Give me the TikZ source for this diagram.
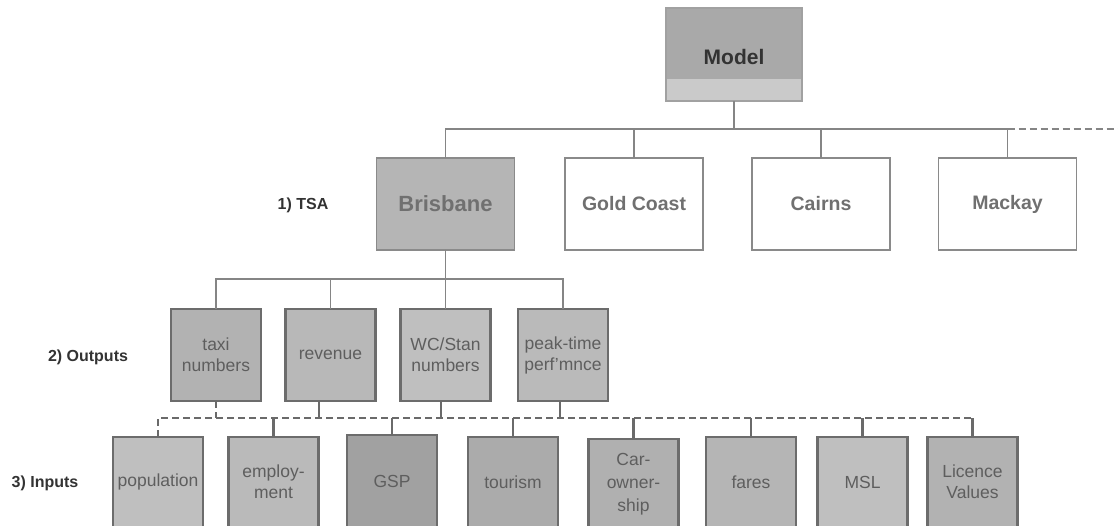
\documentclass[tikz,border=0pt]{standalone}
\usepackage{fontspec}
\setmainfont{Liberation Sans}
\definecolor{linegray}{HTML}{858585}
\definecolor{busgray}{HTML}{6A6A6A}
\definecolor{boxborder}{HTML}{6C6C6C}
\definecolor{boxtext}{HTML}{5E5E5E}
\definecolor{cityborder}{HTML}{8A8A8A}
\definecolor{citytext}{HTML}{707070}
\definecolor{labeltext}{HTML}{333333}
\definecolor{modeltop}{HTML}{A9A9A9}
\definecolor{modellow}{HTML}{CACACA}
\begin{document}
\begin{tikzpicture}[x=1pt,y=-1pt,
  conn/.style={draw=linegray, line width=1.5pt},
  busline/.style={draw=busgray, line width=2pt, dash pattern=on 7pt off 4pt},
  tick/.style={draw=busgray, line width=2.4pt},
  citybox/.style={draw=cityborder, line width=1.6pt, fill=white,
    minimum width=138pt, minimum height=92pt, inner sep=0pt, outer sep=0pt,
    text=citytext, font=\fontsize{19.5}{22}\selectfont\bfseries},
  databox/.style={draw=boxborder, line width=2.6pt, fill=#1,
    minimum width=90pt, minimum height=92pt, inner sep=0pt, outer sep=0pt,
    align=center, text=boxtext, font=\fontsize{17.5}{21}\selectfont},
  databox/.default=black!28,
  lvl/.style={text=labeltext, font=\fontsize{16}{18}\selectfont\bfseries}]
\useasboundingbox (0,0) rectangle (1118,526);
\clip (0,0) rectangle (1118,526);

% top of the tree
\node[draw=cityborder!80, line width=1.4pt, fill=modeltop,
  minimum width=136pt, minimum height=93pt, inner sep=0pt, outer sep=0pt,
  path picture={\fill[modellow] (path picture bounding box.south west)
    rectangle ([yshift=22pt]path picture bounding box.south east);},
  text=labeltext, font=\fontsize{21}{24}\selectfont\bfseries,
  text depth=0pt, text height=21pt] (model) at (734,54.5) {Model};

% 1) TSA level
\node[citybox, fill=black!29, font=\fontsize{22}{24}\selectfont\bfseries] (bris) at (445.5,204) {Brisbane};
\node[citybox] (gold) at (634,204) {Gold Coast};
\node[citybox] (cairns) at (821,204) {Cairns};
\node[citybox] (mackay) at (1007.5,204) {Mackay};

% 2) Outputs level
\node[databox=black!30] (taxi) at (216,355) {taxi\\numbers};
\node[databox=black!28] (rev) at (330.5,355) {revenue};
\node[databox=black!25] (wc) at (445.5,355) {WC/Stan\\numbers};
\node[databox=black!27] (peak) at (563,355) {peak-time\\perf'mnce};

% 3) Inputs level
\node[databox=black!25, minimum height=90pt] (pop) at (158,482) {population};
\node[databox=black!27, minimum height=90pt] (emp) at (273.5,482) {employ-\\ment};
\node[databox=black!37, minimum height=92pt] (gsp) at (392,481) {GSP};
\node[databox=black!33, minimum height=90pt] (tour) at (513,482) {tourism};
\node[databox=black!31, minimum height=90pt, font=\fontsize{17.5}{23}\selectfont] (car) at (633.5,484) {Car-\\owner-\\ship};
\node[databox=black!29, minimum height=90pt] (fares) at (751,482) {fares};
\node[databox=black!25, minimum height=90pt] (msl) at (862.5,482) {MSL};
\node[databox=black!30, minimum height=90pt] (lic) at (972.5,482) {Licence\\Values};

% level labels
\node[lvl] (lab1) at (303,205) {1) TSA};
\node[lvl] (lab2) at (88,357) {2) Outputs};
\node[lvl] (lab3) at (45,483) {3) Inputs};

% bus rows
\coordinate (bus1) at (0,129);
\coordinate (bus2) at (0,279);
\coordinate (bus3) at (0,418);
\coordinate (busend) at (1118,129);

% model to TSA row
\draw[conn] (model.south) -- (model.south |- bus1);
\draw[conn] (bris.north) |- (mackay.north |- bus1) -- (mackay.north);
\draw[conn] (gold.north) -- (gold.north |- bus1);
\draw[conn, line width=2.2pt] (cairns.north) -- (cairns.north |- bus1);
\draw[conn, dash pattern=on 7pt off 4pt] (mackay.north |- bus1) -- (busend);

% Brisbane to outputs
\draw[conn] (bris.south) -- (bris.south |- bus2);
\draw[conn] (taxi.north) |- (peak.north |- bus2) -- (peak.north);
\draw[conn] (rev.north) -- (rev.north |- bus2);
\draw[conn] (wc.north) -- (wc.north |- bus2);

% outputs to inputs
\draw[busline] (pop.north) |- (lic.north |- bus3);
\coordinate (revtap) at ([xshift=-11.5pt]rev.south);
\coordinate (wctap) at ([xshift=-4.5pt]wc.south);
\coordinate (peaktap) at ([xshift=-3pt]peak.south);
\draw[busline] (taxi.south) -- (taxi.south |- bus3);
\draw[tick] (revtap) -- (revtap |- bus3);
\draw[tick] (wctap) -- (wctap |- bus3);
\draw[tick] (peaktap) -- (peaktap |- bus3);
\foreach \n in {emp,gsp,tour,car,fares,msl,lic}
  \draw[tick] (\n.north) -- (\n.north |- bus3);
\end{tikzpicture}
\end{document}
